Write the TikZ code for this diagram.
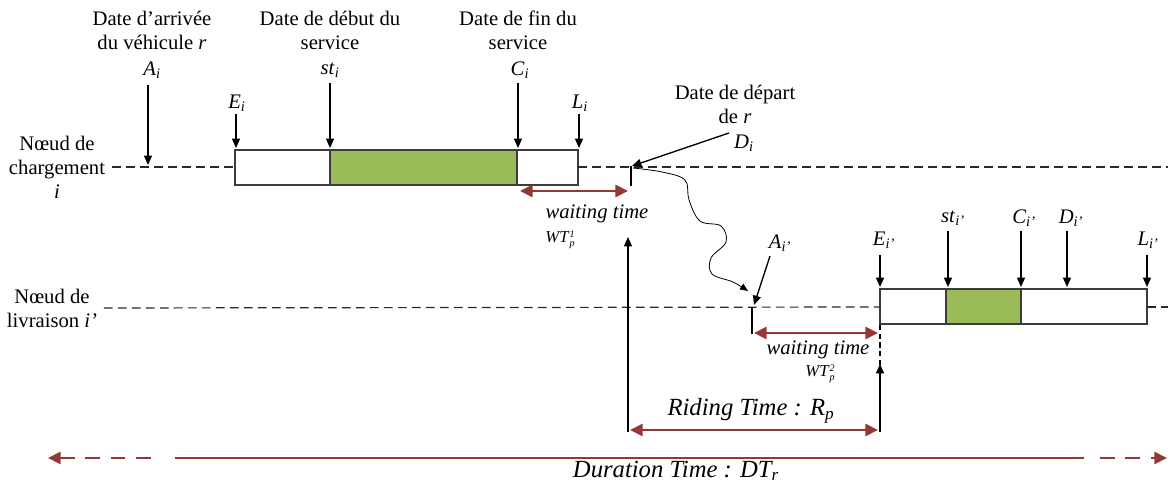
\documentclass[tikz,border=0pt]{standalone}
\usepackage{fontspec}
\setmainfont{Liberation Serif}
\usetikzlibrary{arrows.meta}
\definecolor{grn}{RGB}{155,187,89}
\definecolor{dred}{RGB}{149,55,53}
\definecolor{lgray}{RGB}{60,60,60}
\definecolor{dgray}{RGB}{40,40,40}
\newcommand\fsA{\fontsize{15.5}{18}\selectfont}
\newcommand\fsB{\fontsize{18.5}{22}\selectfont}
\newcommand\fsC{\fontsize{12.5}{14}\selectfont}
\newcommand\fsD{\fontsize{7.5}{8}\selectfont}
\newcommand\symb[2]{\textit{#1}\textsubscript{\textit{#2}}}
\newcommand\wtlab[2]{\textit{WT}\raisebox{-3.2pt}{\fsD\itshape\shortstack[l]{#1\\#2}}}
\tikzset{
  lbl/.style={font=\fsA, align=center, inner sep=0pt},
  sym/.style={font=\fsA, inner sep=0pt},
  evt/.style={-{Triangle[length=7pt,width=6pt]}, line width=1pt},
  redarr/.style={{Triangle[length=9.5pt,width=9pt]}-{Triangle[length=9.5pt,width=9pt]}, dred, line width=2.2pt},
  dline/.style={dash pattern=on 6.5pt off 4pt, line width=0.9pt, dgray},
  boxline/.style={draw=lgray, line width=1pt},
  tick/.style={line width=1.1pt}
}
\begin{document}
\begin{tikzpicture}[x=0.75pt,y=-0.75pt]
\useasboundingbox (0,0) rectangle (1168,488);
% ---------- loading node ----------
\node[lbl] (nc) at (57,167) {Nœud de\\chargement\\\textit{i}};
\draw[boxline, fill=white] (235,150) rectangle (578,185);
\draw[boxline, fill=grn] (330,150) rectangle (517,185);
\coordinate (b1w) at (235,167);
\coordinate (b1e) at (578,167);
\coordinate (rend1) at (1168,167);
\draw[dline, shorten <=5pt] (nc.east) -- (b1w);
\draw[dline] (b1e) -- (rend1);
% A_i
\node[lbl] (tA) at (152,30) {Date d’arrivée\\du véhicule \textit{r}};
\node[sym] (sA) at (152,70) {\symb{A}{i}};
\coordinate (pA0) at (148,85); \coordinate (pA) at (148,165);
\draw[evt] (pA0) -- (pA);
% E_i
\node[sym] (sE) at (237,103) {\symb{E}{i}};
\coordinate (pE0) at (236,114); \coordinate (pE) at (236,148);
\draw[evt] (pE0) -- (pE);
% st_i
\node[lbl] (tS) at (330,30) {Date de début du\\service};
\node[sym] (sS) at (330,70) {\symb{st}{i}};
\coordinate (pS0) at (330,83); \coordinate (pS) at (330,148);
\draw[evt] (pS0) -- (pS);
% C_i
\node[lbl] (tC) at (518,30) {Date de fin du\\service};
\node[sym] (sC) at (520,70) {\symb{C}{i}};
\coordinate (pC0) at (518,83); \coordinate (pC) at (518,148);
\draw[evt] (pC0) -- (pC);
% L_i
\node[sym] (sL) at (580,103) {\symb{L}{i}};
\coordinate (pL0) at (579,114); \coordinate (pL) at (579,148);
\draw[evt] (pL0) -- (pL);
% D_i
\node[lbl] (tD) at (735,104) {Date de départ\\de \textit{r}};
\node[sym] (sD) at (744,143) {\symb{D}{i}};
\coordinate (pD0) at (729,133); \coordinate (pD) at (632,166);
\draw[evt] (pD0) -- (pD);
\coordinate (tk1a) at (631,166); \coordinate (tk1b) at (631,186);
\draw[tick] (tk1a) -- (tk1b);
% waiting time 1
\coordinate (w1a) at (520,191); \coordinate (w1b) at (628,191);
\draw[redarr] (w1a) -- (w1b);
\node[font=\fsA\itshape, inner sep=0pt] (wt1) at (597,214) {waiting time};
\node[font=\fsC, inner sep=0pt] (wt1s) at (560,240) {\wtlab{1}{p}};
% squiggle
\coordinate (sq1) at (633,168);
\coordinate (sq2) at (748,291);
\draw[-{Triangle[length=6pt,width=5pt]}, line width=0.6pt] plot[smooth, tension=0.6] coordinates {(sq1) (662,172) (685,180) (689,200) (700,221) (721,226) (726,242) (711,258) (712,274) (733,282) (sq2)};
% ---------- delivery node ----------
\node[lbl] (nl) at (52,308) {Nœud de\\livraison \textit{i’}};
\draw[boxline, fill=white] (880,289) rectangle (1147,324);
\draw[boxline, fill=grn] (946,289) rectangle (1021,324);
\coordinate (b2w) at (880,307);
\coordinate (b2e) at (1147,307);
\coordinate (rend2) at (1168,307);
\draw[dline, shorten <=5pt] (nl.east) -- (b2w);
\draw[dline] (b2e) -- (rend2);
% A_i'
\node[sym] (sA2) at (780,243) {\symb{A}{i’}};
\coordinate (pA20) at (770,256); \coordinate (pA2) at (754,305);
\draw[evt] (pA20) -- (pA2);
\coordinate (tk2a) at (752,307); \coordinate (tk2b) at (752,334);
\draw[tick] (tk2a) -- (tk2b);
% E_i'
\node[sym] (sE2) at (884,240) {\symb{E}{i’}};
\coordinate (pE20) at (880,255); \coordinate (pE2) at (880,287);
\draw[evt] (pE20) -- (pE2);
% st_i'
\node[sym] (sS2) at (953,218) {\symb{st}{i’}};
\coordinate (pS20) at (948,231); \coordinate (pS2) at (948,287);
\draw[evt] (pS20) -- (pS2);
% C_i'
\node[sym] (sC2) at (1024,218) {\symb{C}{i’}};
\coordinate (pC20) at (1021,231); \coordinate (pC2) at (1021,287);
\draw[evt] (pC20) -- (pC2);
% D_i'
\node[sym] (sD2) at (1071,218) {\symb{D}{i’}};
\coordinate (pD20) at (1067,231); \coordinate (pD2) at (1067,287);
\draw[evt] (pD20) -- (pD2);
% L_i'
\node[sym] (sL2) at (1148,240) {\symb{L}{i’}};
\coordinate (pL20) at (1147,255); \coordinate (pL2) at (1147,287);
\draw[evt] (pL20) -- (pL2);
% waiting time 2
\coordinate (w2a) at (754,333); \coordinate (w2b) at (878,333);
\draw[redarr] (w2a) -- (w2b);
\node[font=\fsA\itshape, inner sep=0pt] (wt2) at (818,350) {waiting time};
\node[font=\fsC, inner sep=0pt] (wt2s) at (820,374) {\wtlab{2}{p}};
\coordinate (dv1) at (880,325); \coordinate (dv2) at (880,366);
\draw[dash pattern=on 4pt off 2.5pt, line width=0.8pt] (dv1) -- (dv2);
% riding time
\coordinate (up1a) at (628,432); \coordinate (up1b) at (628,237);
\draw[evt] (up1a) -- (up1b);
\coordinate (up2a) at (880,432); \coordinate (up2b) at (880,364);
\draw[evt] (up2a) -- (up2b);
\coordinate (r1) at (630,430); \coordinate (r2) at (878,430);
\draw[redarr] (r1) -- (r2);
\node[font=\fsB\itshape, inner sep=0pt] (rt) at (751,411) {Riding Time : R\textsubscript{p}};
% duration time
\coordinate (d0) at (48,458); \coordinate (d1) at (152,458);
\coordinate (d2) at (175,458); \coordinate (d3) at (1084,458);
\coordinate (d4) at (1100,458); \coordinate (d5) at (1167,458);
\draw[dred, line width=2.2pt, dash pattern=on 11pt off 8pt, {Triangle[length=9.5pt,width=9pt]}-] (d0) -- (d1);
\draw[dred, line width=2.2pt] (d2) -- (d3);
\draw[dred, line width=2.2pt, dash pattern=on 11pt off 8pt, -{Triangle[length=9.5pt,width=9pt]}] (d4) -- (d5);
\node[font=\fsB\itshape, inner sep=0pt] (dt) at (676,471) {Duration Time : DT\textsubscript{r}};
\end{tikzpicture}
\end{document}
